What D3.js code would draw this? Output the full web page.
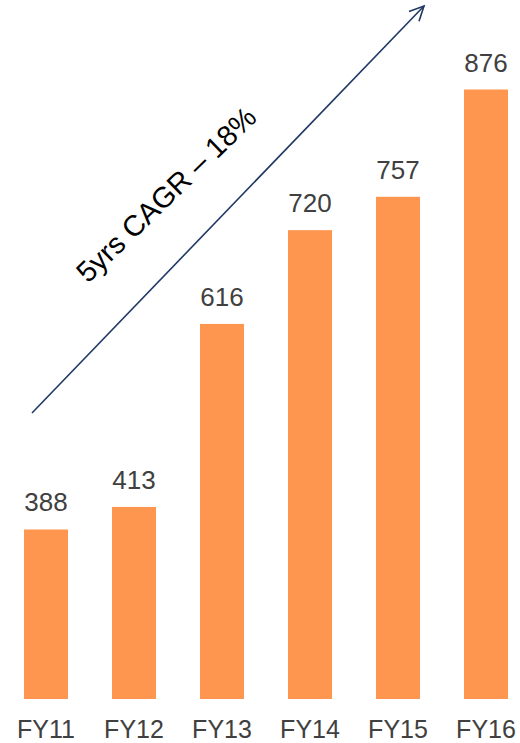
<!DOCTYPE html>
<html><head><meta charset="utf-8">
<script src="https://cdn.jsdelivr.net/npm/d3@7"></script>
<style>html,body{margin:0;padding:0;background:#fff;}svg{display:block;}</style>
</head><body>
<script>
const categories = ["FY11","FY12","FY13","FY14","FY15","FY16"];
const values = [388, 413, 616, 720, 757, 876];
const annotation = "5yrs CAGR \u2013 18%";

const W = 520, H = 743;
const svg = d3.select("body").append("svg").attr("width", W).attr("height", H);

const x = d3.scaleBand().domain(categories).range([2, 530]).paddingInner(0.5).paddingOuter(0.25);
const y = d3.scaleLinear().domain([200, 876]).range([699, 89.5]);

svg.selectAll("rect.bar").data(values).enter().append("rect")
  .attr("class","bar")
  .attr("x", (d,i) => x(categories[i]))
  .attr("width", x.bandwidth())
  .attr("y", d => y(d))
  .attr("height", d => y(200) - y(d))
  .attr("fill", "#FF964F");

svg.selectAll("text.val").data(values).enter().append("text")
  .attr("class","val")
  .attr("x", (d,i) => x(categories[i]) + x.bandwidth()/2)
  .attr("y", d => y(d) - 18)
  .attr("text-anchor","middle")
  .attr("font-family","Liberation Sans, Arial, sans-serif")
  .attr("font-size", 26)
  .attr("fill","#404040")
  .text(d => d);

svg.selectAll("text.cat").data(categories).enter().append("text")
  .attr("class","cat")
  .attr("x", d => x(d) + x.bandwidth()/2)
  .attr("y", 738)
  .attr("text-anchor","middle")
  .attr("font-family","Liberation Sans, Arial, sans-serif")
  .attr("font-size", 25)
  .attr("fill","#404040")
  .text(d => d);

// arrow annotation
const x0 = 32, y0 = 413, x1 = 424, y1 = 6;
svg.append("line").attr("x1",x0).attr("y1",y0).attr("x2",x1).attr("y2",y1)
  .attr("stroke","#1F3864").attr("stroke-width",1.6);
const ang = Math.atan2(y1-y0, x1-x0);
const hl = 16, ha = 0.45;
const p1 = [x1 - hl*Math.cos(ang-ha), y1 - hl*Math.sin(ang-ha)];
const p2 = [x1 - hl*Math.cos(ang+ha), y1 - hl*Math.sin(ang+ha)];
svg.append("path").attr("d", `M${p1[0]},${p1[1]}L${x1},${y1}L${p2[0]},${p2[1]}`)
  .attr("fill","none").attr("stroke","#1F3864").attr("stroke-width",1.6);

svg.append("text")
  .attr("transform","translate(88,284) rotate(-44)")
  .attr("font-family","Liberation Sans, Arial, sans-serif")
  .attr("font-size", 29)
  .attr("fill","#000")
  .text(annotation);
</script>
</body></html>
